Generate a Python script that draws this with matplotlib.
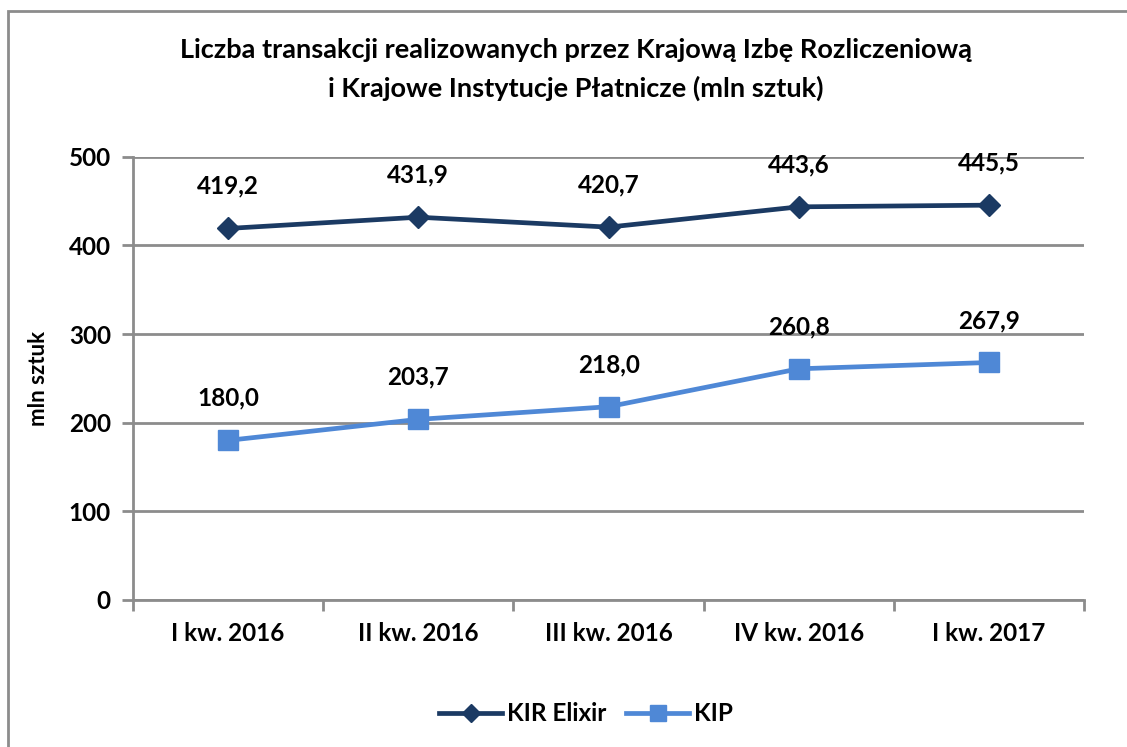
import numpy as np
import matplotlib.pyplot as plt
from matplotlib.patches import Rectangle

plt.rcParams['font.family'] = ['Lato', 'DejaVu Sans']

categories = ['I kw. 2016', 'II kw. 2016', 'III kw. 2016', 'IV kw. 2016', 'I kw. 2017']
kir_elixir = [419.2, 431.9, 420.7, 443.6, 445.5]
kip = [180.0, 203.7, 218.0, 260.8, 267.9]

navy = '#1B3A63'
light = '#4F88D6'
grid_c = '#8C8C8C'

fig = plt.figure(figsize=(11.27, 7.47), dpi=100)
ax = fig.add_axes([0.118, 0.197, 0.844, 0.593])

# frame around the chart area
fig.patches.append(Rectangle((0.007, -0.05), 1.1, 1.035, transform=fig.transFigure,
                             fill=False, edgecolor='#8C8C8C', linewidth=2))

x = np.arange(len(categories))
ax.plot(x, kir_elixir, color=navy, lw=3.4, marker='D', ms=11, label='KIR Elixir', zorder=3)
ax.plot(x, kip, color=light, lw=3.4, marker='s', ms=14, label='KIP', zorder=3)

def fmt(v):
    return f'{v:.1f}'.replace('.', ',')

for xi, v in zip(x, kir_elixir):
    ax.annotate(fmt(v), (xi, v), xytext=(0, 22), textcoords='offset points',
                ha='center', va='bottom', fontsize=17.5, fontweight='bold')
for xi, v in zip(x, kip):
    ax.annotate(fmt(v), (xi, v), xytext=(0, 22), textcoords='offset points',
                ha='center', va='bottom', fontsize=17.5, fontweight='bold')

ax.set_xlim(-0.5, len(categories) - 0.5)
ax.set_ylim(0, 500)
ax.set_yticks(range(0, 501, 100))
ax.set_xticks(x)
ax.set_xticklabels(categories, fontsize=17.5, fontweight='bold')
ax.tick_params(axis='x', length=0, pad=16)
ax.set_xticks(np.arange(-0.5, len(categories), 1), minor=True)
ax.tick_params(axis='x', which='minor', length=8, width=2, color=grid_c, direction='out')
ax.tick_params(axis='y', labelsize=17.5, length=8, width=2, color=grid_c, pad=8)
for lab in ax.get_yticklabels():
    lab.set_fontweight('bold')

ax.yaxis.grid(True, color=grid_c, lw=2)
ax.set_axisbelow(True)
for s in ['top', 'right']:
    ax.spines[s].set_visible(False)
for s in ['left', 'bottom']:
    ax.spines[s].set_color(grid_c)
    ax.spines[s].set_linewidth(2)

ax.set_ylabel('mln sztuk', fontsize=16, fontweight='bold', labelpad=14)

fig.text(0.511, 1 - 50 / 747, 'Liczba transakcji realizowanych przez Krajową Izbę Rozliczeniową',
         ha='center', va='center', fontsize=19.5, fontweight='bold')
fig.text(0.511, 1 - 88 / 747, 'i Krajowe Instytucje Płatnicze (mln sztuk)',
         ha='center', va='center', fontsize=19.5, fontweight='bold')

fig.legend(loc='lower center', bbox_to_anchor=(0.52, 0.0), ncol=2, frameon=False,
           prop={'size': 17.5, 'weight': 'bold'}, handlelength=2.6, columnspacing=0.8,
           handletextpad=0.2, markerscale=0.8)

fig.savefig('out.png', dpi=100)
